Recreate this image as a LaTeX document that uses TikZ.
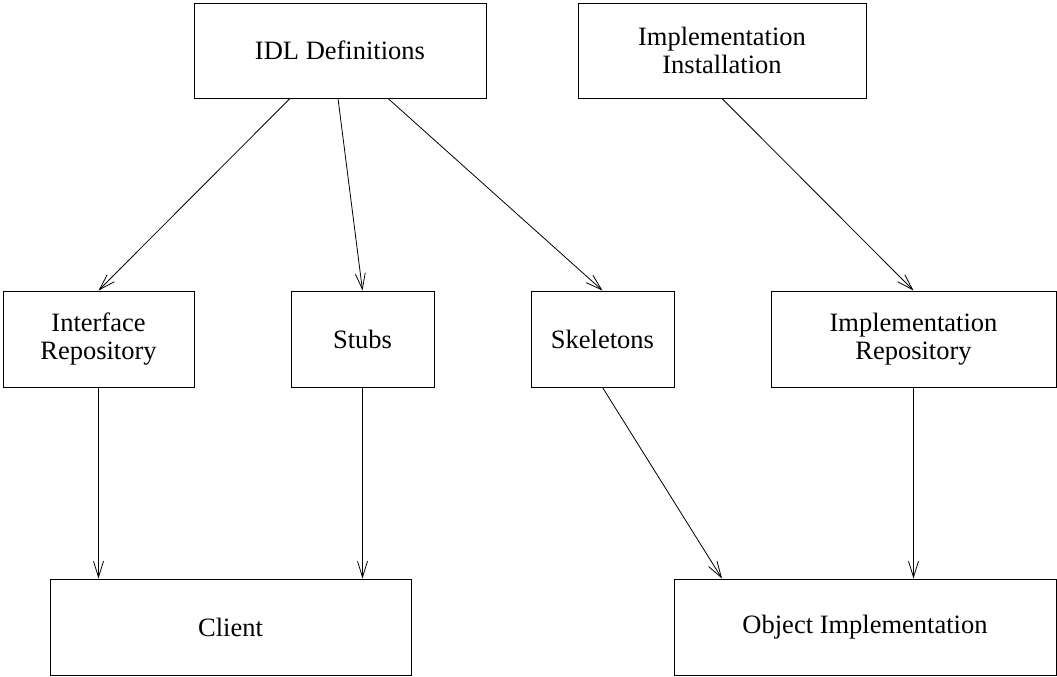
\documentclass[tikz,border=0pt]{standalone}
\usepackage{fontspec}
\setmainfont{Liberation Serif}
\usetikzlibrary{arrows.meta}
\begin{document}
\begin{tikzpicture}[x=1pt,y=-1pt,
  box/.style={draw,line width=0.9pt,rectangle,inner sep=0pt,align=center,
    font=\fontsize{26.5}{28.5}\selectfont,minimum height=95pt},
  flow/.style={line width=0.8pt,-{Straight Barb[length=16pt,width=10pt,line width=0.8pt]}}]
\useasboundingbox (0,0) rectangle (1057,677);
% top row
\node[box,minimum width=292pt] (idl)  at (340,50.5) {IDL Definitions};
\node[box,minimum width=288pt] (inst) at (722,50.5) {Implementation\\Installation};
% middle row
\node[box,minimum width=191pt,minimum height=96pt] (ifr)   at (98.5,339)  {Interface\\Repository};
\node[box,minimum width=143pt,minimum height=96pt] (stubs) at (362.5,339) {Stubs};
\node[box,minimum width=143pt,minimum height=96pt] (skel)  at (602.5,339) {Skeletons};
\node[box,minimum width=285pt,minimum height=96pt] (imr)   at (913.5,339) {Implementation\\Repository};
% bottom row
\node[box,minimum width=361pt,minimum height=96pt] (client) at (230.5,627) {Client};
\node[box,minimum width=382pt,minimum height=96pt] (obj)    at (865,627)   {Object Implementation};
% connectors
\draw[flow] ([xshift=-50pt]idl.south) -- (ifr.north);
\draw[flow] ([xshift=-2pt]idl.south) -- (stubs.north);
\draw[flow] ([xshift=48pt]idl.south) -- (skel.north);
\draw[flow] (inst.south) -- (imr.north);
\draw[flow] (ifr.south) -- (ifr.south |- client.north);
\draw[flow] (stubs.south) -- (stubs.south |- client.north);
\draw[flow] (skel.south) -- (inst.south |- obj.north);
\draw[flow] (imr.south) -- (imr.south |- obj.north);
\end{tikzpicture}
\end{document}
